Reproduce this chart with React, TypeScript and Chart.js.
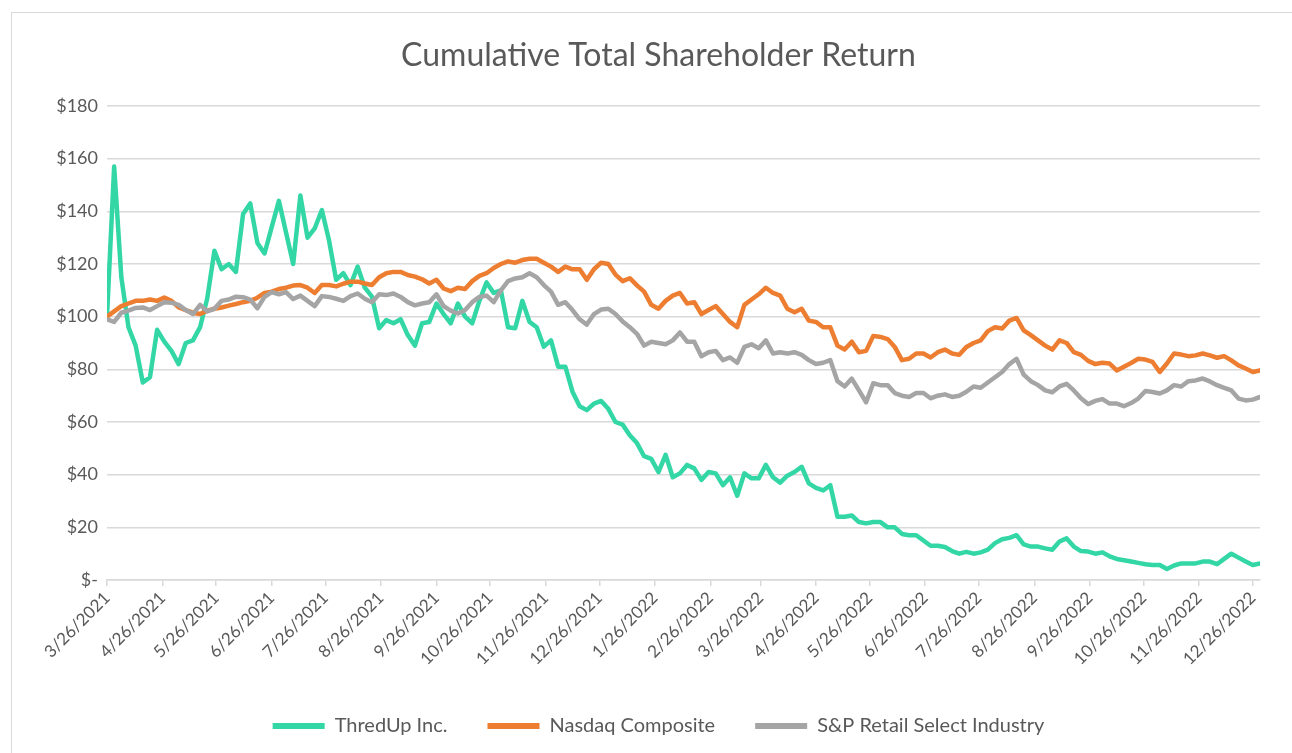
import React, { useEffect, useRef } from "react";
import { Chart, registerables } from "chart.js";

Chart.register(...registerables);

const START_DATE = "2021-03-26";
const STEP_DAYS = 4;
const X_MAX_DAYS = 644;

const seriesNames = ["ThredUp Inc.", "Nasdaq Composite", "S&P Retail Select Industry"];
const seriesColors = ["#33D6A5", "#ED7D31", "#A5A5A5"];

const tickLabels = [
  "3/26/2021", "4/26/2021", "5/26/2021", "6/26/2021", "7/26/2021", "8/26/2021",
  "9/26/2021", "10/26/2021", "11/26/2021", "12/26/2021", "1/26/2022", "2/26/2022",
  "3/26/2022", "4/26/2022", "5/26/2022", "6/26/2022", "7/26/2022", "8/26/2022",
  "9/26/2022", "10/26/2022", "11/26/2022", "12/26/2022",
];

const thredUp = [
  100, 157, 115, 96, 89, 75, 77, 95, 90.5, 87,
  82, 90, 91, 96, 107, 125, 118, 120, 117, 139,
  143, 128, 124, 134, 144, 132, 120, 146, 130, 133.5,
  140.5, 129, 114, 116.5, 112, 119, 111, 107.6, 95.6, 98.7,
  97.5, 99, 93, 89, 97.5, 98, 105, 101, 97.5, 105,
  100, 97.5, 106, 113, 109, 110, 96, 95.6, 106, 98,
  96, 88.6, 91, 81, 81, 71.5, 66, 64.5, 67, 68,
  65, 60, 59, 55, 52, 47, 46, 41, 47.5, 39,
  40.5, 43.7, 42.4, 38, 41, 40.5, 36, 39, 32, 40.5,
  38.6, 38.6, 43.7, 39, 37, 39.6, 41, 43, 36.7, 35,
  34, 36, 24, 24, 24.5, 22, 21.5, 22, 22, 20,
  20, 17.5, 17, 17, 15, 13, 13, 12.5, 11, 10,
  10.7, 10, 10.5, 11.5, 14, 15.5, 16, 17, 13.5, 12.7,
  12.7, 12, 11.5, 14.6, 15.8, 12.7, 11, 10.8, 10, 10.5,
  9, 8, 7.5, 7, 6.5, 6, 5.7, 5.7, 4.2, 5.5,
  6.3, 6.3, 6.3, 7, 7, 6, 8, 10, 8.5, 7,
  5.7, 6.3,
];

const nasdaq = [
  100, 102, 104, 105, 106, 106, 106.5, 106, 107.3, 106,
  103.5, 102.5, 101.5, 101, 102.3, 103, 103.5, 104.2, 104.8, 105.5,
  106, 107.2, 109, 109.5, 110.5, 111, 111.8, 112, 111, 109,
  112, 112, 111.5, 112.5, 113.3, 113.3, 112.6, 112, 115, 116.5,
  117, 117, 115.8, 115.2, 114.2, 112.6, 114, 110.7, 109.7, 111,
  110.5, 113.5, 115.5, 116.5, 118.5, 120, 121, 120.5, 121.5, 122,
  122, 120.5, 119, 117, 119, 118, 118, 114, 118, 120.5,
  120, 116, 113.5, 114.6, 111.9, 109.5, 104.5, 103, 106, 108,
  109, 105, 105.5, 101, 102.5, 104, 101, 98, 96, 104.5,
  106.5, 108.5, 111, 109, 108, 103, 101.7, 103, 98.5, 98,
  96, 96, 89, 87.5, 90.5, 86.5, 87, 92.7, 92.3, 91.5,
  88.5, 83.5, 84, 86, 86, 84.5, 86.5, 87.5, 86, 85.5,
  88.5, 90, 91, 94.5, 96, 95.5, 98.5, 99.5, 94.8, 93,
  91, 89, 87.5, 91, 90, 86.5, 85.5, 83.2, 82, 82.5,
  82.2, 79.6, 81, 82.4, 84, 83.7, 82.8, 79, 82.2, 86,
  85.6, 85, 85.3, 86, 85.3, 84.4, 85, 83.4, 81.5, 80.3,
  79, 79.6,
];

const spRetail = [
  99, 98, 101.5, 102.3, 103.3, 103.5, 102.5, 104, 105.5, 105.3,
  104.5, 102.5, 101, 104.5, 102, 103, 106, 106.5, 107.6, 107.4,
  106.5, 103.2, 107.5, 109.3, 108.5, 109.3, 106.7, 108, 106, 104,
  107.8, 107.5, 106.8, 106, 107.8, 108.8, 106.8, 105.5, 108.5, 108.2,
  108.8, 107.5, 105.5, 104.3, 105, 105.5, 108.5, 104, 102.3, 101.2,
  102.5, 105.5, 107.5, 108, 105.5, 110, 113.5, 114.5, 115, 116.5,
  115, 112, 109.5, 104.5, 105.5, 102.5, 99, 97, 101, 102.7,
  103, 101, 98.2, 96, 93.5, 89, 90.5, 90, 89.5, 91,
  94, 90.5, 90.5, 85, 86.5, 87, 83.5, 84.5, 82.5, 88.5,
  89.5, 88, 91, 86, 86.5, 86, 86.5, 85.5, 83.5, 82,
  82.5, 83.5, 75.5, 73.5, 76.5, 72, 67.5, 74.7, 74, 74,
  71, 70, 69.5, 71, 71, 69, 70, 70.5, 69.5, 70,
  71.5, 73.5, 73, 75, 77, 79, 82, 84, 78, 75.5,
  74, 72, 71.3, 73.5, 74.5, 72, 69, 66.8, 68, 68.7,
  67, 67, 66, 67.2, 68.9, 71.8, 71.4, 70.8, 72, 74,
  73.5, 75.5, 75.8, 76.5, 75.4, 74, 73, 72, 68.9, 68.2,
  68.5, 69.5,
];

const DAY_MS = 86400000;
const startMs = Date.parse(START_DATE + "T00:00:00Z");

// sample dates (categories) of the series, one every STEP_DAYS days
const sampleDates = thredUp.map((_, i) =>
  new Date(startMs + i * STEP_DAYS * DAY_MS).toISOString().slice(0, 10)
);
const sampleX = sampleDates.map((d) => (Date.parse(d + "T00:00:00Z") - startMs) / DAY_MS);

function offsetOfLabel(s: string) {
  const [m, d, y] = s.split("/").map(Number);
  return (Date.UTC(y, m - 1, d) - startMs) / DAY_MS;
}
const tickOffsets = tickLabels.map(offsetOfLabel);
const labelByOffset = new Map<number, string>();
tickLabels.forEach((l, i) => labelByOffset.set(tickOffsets[i], l));

const TEXT = "#595959";
const GRID = "#d9d9d9";
const W = 1290;
const H = 780;

export default function App() {
  const ref = useRef<HTMLCanvasElement>(null);

  useEffect(() => {
    const canvas = ref.current;
    if (!canvas) return;
    Chart.defaults.font.family = "Lato";
    const series = [thredUp, nasdaq, spRetail];
    const orders = [3, 2, 1];
    const chart = new Chart(canvas, {
      type: "line",
      data: {
        datasets: series.map((vals, si) => ({
          label: seriesNames[si],
          data: vals.map((v, i) => ({ x: sampleX[i], y: v })),
          borderColor: seriesColors[si],
          backgroundColor: seriesColors[si],
          borderWidth: 4.5,
          pointRadius: 0,
          pointHoverRadius: 0,
          tension: 0,
          borderJoinStyle: "round",
          borderCapStyle: "round",
          order: orders[si],
        })),
      },
      options: {
        responsive: false,
        animation: false,
        devicePixelRatio: 1,
        layout: { padding: { left: 45, right: 42, top: 0, bottom: 47 } },
        plugins: {
          title: {
            display: true,
            text: "Cumulative Total Shareholder Return",
            color: TEXT,
            font: { family: "Lato", size: 32, weight: "normal" },
            padding: { top: 23.8, bottom: 30.8 },
          },
          legend: {
            position: "bottom",
            labels: {
              usePointStyle: true,
              pointStyle: "line",
              pointStyleWidth: 52,
              padding: 40,
              color: TEXT,
              font: { family: "Lato", size: 20 },
              sort: (a: any, b: any) => a.datasetIndex - b.datasetIndex,
              generateLabels: (ch: any) =>
                (Chart.defaults.plugins.legend.labels as any)
                  .generateLabels(ch)
                  .map((l: any) => ({ ...l, lineWidth: 6, lineCap: "butt" })),
            },
          },
          tooltip: { enabled: false },
        },
        scales: {
          x: {
            type: "linear",
            min: 0,
            max: X_MAX_DAYS,
            afterBuildTicks: (scale: any) => {
              scale.ticks = tickOffsets.map((v) => ({ value: v }));
            },
            afterFit: (scale: any) => {
              scale.height = 96;
              scale.paddingLeft = 0;
              scale.paddingRight = 0;
            },
            ticks: {
              autoSkip: false,
              minRotation: 45,
              maxRotation: 45,
              color: TEXT,
              font: { family: "Lato", size: 17 },
              padding: 2,
              callback: (value: any) => labelByOffset.get(Number(value)) ?? "",
            },
            grid: {
              drawOnChartArea: false,
              drawTicks: true,
              tickLength: 6,
              color: GRID,
              lineWidth: 1.5,
            },
            border: { display: true, color: GRID, width: 1.5 },
          },
          y: {
            min: 0,
            max: 180,
            afterFit: (scale: any) => {
              scale.width = 50;
              scale.paddingTop = 0;
              scale.paddingBottom = 0;
            },
            ticks: {
              stepSize: 20,
              padding: 9,
              color: TEXT,
              font: { family: "Lato", size: 18 },
              callback: (v: any) => (Number(v) === 0 ? "$-" : "$" + v),
            },
            grid: { color: GRID, lineWidth: 1.5, drawTicks: false },
            border: { display: false },
          },
        },
      } as any,
    });
    return () => chart.destroy();
  }, []);

  return (
    <div
      style={{
        position: "fixed",
        left: 11,
        top: 12,
        width: W,
        height: H,
        border: "1px solid #d9d9d9",
        overflow: "hidden",
        background: "#ffffff",
      }}
    >
      <canvas ref={ref} width={W} height={H} style={{ display: "block" }} />
    </div>
  );
}
